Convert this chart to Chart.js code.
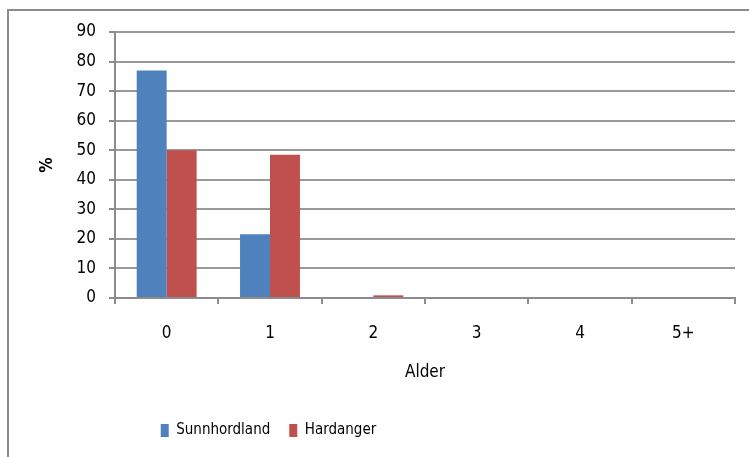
<!DOCTYPE html>
<html lang="no">
<head>
  <meta charset="UTF-8" />
  <title>Alder</title>
  <script src="https://cdn.jsdelivr.net/npm/chart.js"></script>
  <style>
    html, body {
      margin: 0;
      padding: 0;
      width: 749px;
      height: 457px;
      overflow: hidden;
      background: #fff;
    }
    .frame {
      position: absolute;
      left: 7px;
      top: 9px;
      width: 800px;
      height: 500px;
      border: 2px solid #8a8a8a;
    }
    .chart-box {
      position: absolute;
      left: 0;
      top: 0;
      width: 749px;
      height: 457px;
    }
  </style>
</head>
<body>
  <div class="frame"></div>
  <div class="chart-box">
    <canvas id="alderChart"></canvas>
  </div>

  <script>
    const ageGroups = ['0', '1', '2', '3', '4', '5+'];
    const sunnhordland = [77, 21.6, 0.3, 0, 0.3, 0];
    const hardanger = [50, 48.5, 0.9, 0, 0, 0];
    const yTicks = [0, 10, 20, 30, 40, 50, 60, 70, 80, 90];

    const fontFamily = '"Liberation Sans Narrow", "DejaVu Sans Condensed", Lato, sans-serif';
    const axisGrey = '#8c8c8c';

    // the legend in the original sits left of centre
    const legendShift = {
      id: 'legendShift',
      afterLayout(chart) {
        chart.legend.left -= 99;
        chart.legend.right -= 99;
      }
    };

    const ctx = document.getElementById('alderChart').getContext('2d');

    const chart = new Chart(ctx, {
      type: 'bar',
      data: {
        labels: ageGroups,
        datasets: [
          {
            label: 'Sunnhordland',
            data: sunnhordland,
            backgroundColor: '#4f81bd',
            borderWidth: 0
          },
          {
            label: 'Hardanger',
            data: hardanger,
            backgroundColor: '#c0504d',
            borderWidth: 0
          }
        ]
      },
      plugins: [legendShift],
      options: {
        responsive: true,
        maintainAspectRatio: false,
        animation: false,
        layout: {
          padding: { left: 0, right: 14, top: 32, bottom: 9 }
        },
        datasets: {
          bar: {
            categoryPercentage: 0.58,
            barPercentage: 1
          }
        },
        plugins: {
          legend: {
            position: 'bottom',
            labels: {
              boxWidth: 8,
              boxHeight: 13,
              padding: 19,
              color: '#000',
              font: { family: fontFamily, size: 15 }
            }
          },
          tooltip: { enabled: false }
        },
        scales: {
          x: {
            offset: true,
            afterFit: function(scale) { scale.height = 106; },
            grid: {
              offset: true,
              drawOnChartArea: false,
              drawTicks: true,
              tickLength: 6,
              color: axisGrey,
              lineWidth: 2
            },
            border: { color: axisGrey, width: 2 },
            ticks: {
              padding: 19,
              color: '#000',
              font: { family: fontFamily, size: 17 }
            },
            title: {
              display: true,
              text: 'Alder',
              color: '#000',
              padding: { top: 0, bottom: 21 },
              font: { family: fontFamily, size: 17 }
            }
          },
          y: {
            min: 0,
            max: 90,
            afterFit: function(scale) { scale.width = 115; },
            afterBuildTicks: function(scale) {
              scale.ticks = yTicks.map(v => ({ value: v }));
            },
            grid: {
              color: '#999',
              lineWidth: 2,
              borderDash: [2, 1],
              tickLength: 6,
              tickColor: axisGrey,
              tickBorderDash: []
            },
            border: { color: axisGrey, width: 2 },
            ticks: {
              padding: 13,
              color: '#000',
              font: { family: fontFamily, size: 17 }
            },
            title: {
              display: true,
              text: '%',
              color: '#000',
              padding: { top: 37, bottom: 0 },
              font: { family: fontFamily, size: 17, weight: 'bold' }
            }
          }
        }
      }
    });
  </script>
</body>
</html>
